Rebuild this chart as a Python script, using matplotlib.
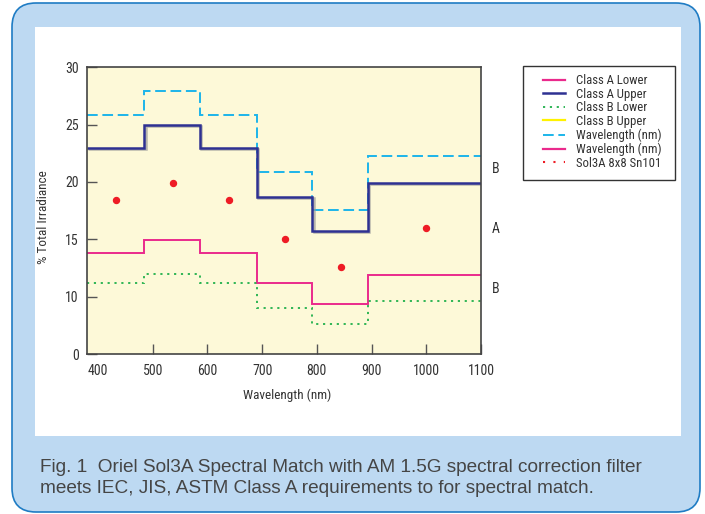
import matplotlib
matplotlib.use("Agg")
import matplotlib.pyplot as plt
from matplotlib.patches import FancyBboxPatch, Rectangle
from matplotlib.transforms import IdentityTransform
from matplotlib.lines import Line2D
import matplotlib.patheffects as pe

# ---- data ----
bin_edges = [380, 485, 587, 690, 792, 893, 1100]          # wavelength (nm)
class_a_lower = [13.8, 14.9, 13.8, 11.2, 9.4, 11.9]
class_a_upper = [23.0, 25.0, 23.0, 18.7, 15.7, 19.9]
class_b_lower = [11.2, 12.0, 11.2, 9.0, 7.6, 9.6]
class_b_upper = [25.8, 27.9, 25.8, 20.9, 17.6, 22.3]
sol3a_wl = [433, 537, 639, 742, 844, 999]
sol3a_vals = [18.4, 19.9, 18.4, 15.0, 12.6, 16.0]
x_ticks = [400, 500, 600, 700, 800, 900, 1000, 1100]
y_ticks = [5, 10, 15, 20, 25, 30]
y_tick_labels = ["0", "10", "15", "20", "25", "30"]
side_labels = ["B", "A", "B"]
side_label_y = [21.1, 15.9, 10.7]
legend_labels = ["Class A Lower", "Class A Upper", "Class B Lower", "Class B Upper",
                 "Wavelength (nm)", "Wavelength (nm)", "Sol3A 8x8 Sn101"]

NARROW = ["Liberation Sans Narrow", "Roboto Condensed", "Open Sans Condensed", "Liberation Sans"]
STRETCH = "condensed"
TXT = "#333333"
C_NAVY = "#2e3192"
C_PINK = "#ea2a8c"
C_CYAN = "#1cb5ea"
C_GREEN = "#20b04b"
C_YELLOW = "#fff200"
C_RED = "#ee1c25"

W, H = 705, 514
fig = plt.figure(figsize=(W / 100, H / 100), dpi=100)
fig.patch.set_facecolor("white")

# outer rounded blue panel and inner white panel (pixel coordinates)
outer = FancyBboxPatch((12, 2), 688, 509, boxstyle="round,pad=0,rounding_size=24",
                       transform=IdentityTransform(), facecolor="#bdd9f2",
                       edgecolor="#1f7cc4", linewidth=1.2, zorder=-10)
fig.add_artist(outer)
inner = Rectangle((35, 78), 646, 409, transform=IdentityTransform(),
                  facecolor="white", edgecolor="none", zorder=-9)
fig.add_artist(inner)

ax = fig.add_axes([87 / W, 1 - 354 / H, 394 / W, 286.7 / H])
ax.set_facecolor("#fdf9d8")

sh = [pe.SimpleLineShadow(offset=(0.8, -0.8), shadow_color="#999999", alpha=0.7), pe.Normal()]

ax.stairs(class_b_upper, bin_edges, baseline=None, color=C_CYAN, lw=1.4, linestyle=(0, (5.5, 2.4)))
ax.stairs(class_a_upper, bin_edges, baseline=None, color=C_NAVY, lw=1.8, path_effects=sh)
ax.stairs(class_a_lower, bin_edges, baseline=None, color=C_PINK, lw=1.4)
ax.stairs(class_b_lower, bin_edges, baseline=None, color=C_GREEN, lw=1.3, linestyle=(0, (1.2, 2.6)))
ax.plot(sol3a_wl, sol3a_vals, linestyle="none", marker="o", ms=4.3, color=C_RED)

ax.set_xlim(bin_edges[0], bin_edges[-1])
ax.set_ylim(5, 30)
ax.set_xticks(x_ticks)
ax.set_xticklabels([str(t) for t in x_ticks])
ax.set_yticks(y_ticks)
ax.set_yticklabels(y_tick_labels)
ax.tick_params(axis="both", direction="in", length=7, width=1.0, color="#555555",
               labelsize=10, labelcolor=TXT)
ax.tick_params(axis="x", pad=7)
ax.tick_params(axis="y", pad=6)
for lab in ax.get_xticklabels() + ax.get_yticklabels():
    lab.set_family(NARROW)
    lab.set_stretch(STRETCH)
ax.xaxis.get_major_ticks()[0].tick1line.set_visible(False)

for s in ax.spines.values():
    s.set_color("#444444")
    s.set_linewidth(1.2)

ax.set_xlabel("Wavelength (nm)", family=NARROW, stretch=STRETCH, fontsize=9.5, color=TXT)
ax.xaxis.set_label_coords(0.509, -0.12)
ax.set_ylabel("% Total Irradiance", family=NARROW, stretch=STRETCH, fontsize=9.5, color=TXT)
ax.yaxis.set_label_coords(-0.095, 0.476)

for lab, yv in zip(side_labels, side_label_y):
    ax.text(1.027, yv, lab, transform=ax.get_yaxis_transform(), ha="left", va="center",
            family=NARROW, stretch=STRETCH, fontsize=10, color=TXT)

# legend
handles = [
    Line2D([], [], color=C_PINK, lw=1.6),
    Line2D([], [], color=C_NAVY, lw=1.8),
    Line2D([], [], color=C_GREEN, lw=1.3, linestyle=(0, (1.2, 2.6))),
    Line2D([], [], color=C_YELLOW, lw=1.6),
    Line2D([], [], color=C_CYAN, lw=1.4, linestyle=(0, (5.5, 2.4))),
    Line2D([], [], color=C_PINK, lw=1.6),
    Line2D([], [], color=C_RED, lw=1.5, linestyle=(0, (1, 4))),
]
leg = fig.legend(handles, legend_labels, loc="upper left",
                 bbox_to_anchor=(543 / W, 1 - 74 / H), frameon=False,
                 prop={"family": NARROW, "stretch": STRETCH, "size": 9.2}, handlelength=1.75,
                 handletextpad=0.85, labelspacing=0.05, borderpad=0, borderaxespad=0)
for t in leg.get_texts():
    t.set_color(TXT)
box = Rectangle((522.7, 514 - 180), 152.3, 114, transform=IdentityTransform(),
                facecolor="white", edgecolor="#333333", linewidth=1.0, zorder=-5)
fig.add_artist(box)

cap1 = "Fig. 1  Oriel Sol3A Spectral Match with AM 1.5G spectral correction filter"
cap2 = "meets IEC, JIS, ASTM Class A requirements to for spectral match."
fig.text(40 / W, 42 / H, cap1, family=["Liberation Sans", "DejaVu Sans"], fontsize=13.7,
         color="#454545", va="baseline", ha="left")
fig.text(40 / W, 21 / H, cap2, family=["Liberation Sans", "DejaVu Sans"], fontsize=13.7,
         color="#454545", va="baseline", ha="left")

fig.savefig("out.png", dpi=100)
